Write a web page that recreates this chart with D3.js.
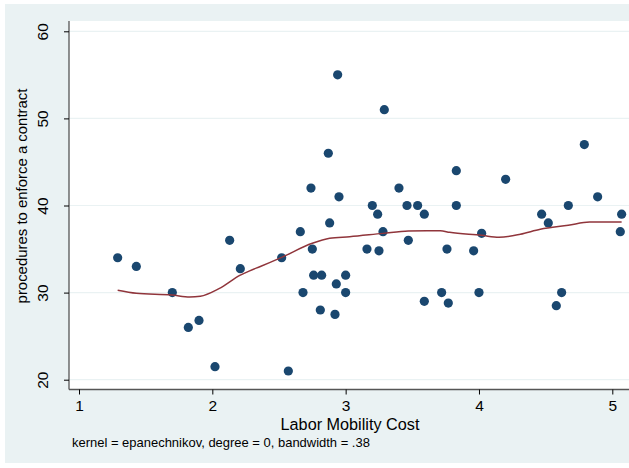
<!DOCTYPE html>
<html>
<head>
<meta charset="utf-8">
<script src="https://cdn.jsdelivr.net/npm/d3@7"></script>
<style>
  html, body { margin: 0; padding: 0; background: #ffffff; }
  svg { display: block; }
  text { font-family: "Liberation Sans", Arial, sans-serif; fill: #000; }
</style>
</head>
<body>
<svg id="chart" width="629" height="468"></svg>
<script>
// Scatter data: Labor Mobility Cost (x) vs procedures to enforce a contract (y)
const pointX = [1.29, 1.43, 1.70, 1.82, 1.90, 2.02, 2.13, 2.21, 2.52, 2.57,
                2.66, 2.68, 2.74, 2.75, 2.76, 2.81, 2.82, 2.87, 2.88, 2.92,
                2.93, 2.94, 2.95, 3.00, 3.00, 3.16, 3.20, 3.24, 3.25, 3.28,
                3.29, 3.40, 3.46, 3.47, 3.54, 3.59, 3.59, 3.72, 3.76, 3.77,
                3.83, 3.83, 3.96, 4.00, 4.02, 4.20, 4.47, 4.52, 4.58, 4.62,
                4.67, 4.79, 4.89, 5.07, 5.06];
const pointY = [34, 33, 30, 26, 26.8, 21.5, 36, 32.75, 34, 21,
                37, 30, 42, 35, 32, 28, 32, 46, 38, 27.5,
                31, 55, 41, 32, 30, 35, 40, 39, 34.8, 37,
                51, 42, 40, 36, 40, 39, 29, 30, 35, 28.8,
                44, 40, 34.8, 30, 36.8, 43, 39, 38, 28.5, 30,
                40, 47, 41, 39, 37];

// Smoothed curve (local polynomial)
const smoothX = [1.29, 1.43, 1.70, 1.83, 1.91, 2.05, 2.21, 2.28, 2.36, 2.52,
                 2.75, 2.88, 3.03, 3.28, 3.47, 3.61, 3.71, 3.78, 4.02, 4.15,
                 4.31, 4.46, 4.67, 4.83, 5.07];
const smoothY = [30.27, 29.92, 29.72, 29.5, 29.58, 30.45, 32.0, 32.5, 33.0, 34.05,
                 35.66, 36.23, 36.42, 36.8, 37.07, 37.1, 37.1, 36.92, 36.58, 36.35,
                 36.7, 37.27, 37.73, 38.1, 38.1];

const xTicks = [1, 2, 3, 4, 5];
const yTicks = [20, 30, 40, 50, 60];

const xTitle = "Labor Mobility Cost";
const yTitle = "procedures to enforce a contract";
const note = "kernel = epanechnikov, degree = 0, bandwidth = .38";

const svg = d3.select("#chart");
const W = 629, H = 468;
const FONT = "'Liberation Sans', Arial, sans-serif";

// outer background
svg.append("rect").attr("x", 5).attr("y", 4).attr("width", W - 5).attr("height", 459)
  .attr("fill", "#eaf2f3");

const plot = { left: 69, top: 21, right: 629, bottom: 389.5 };

svg.append("rect").attr("x", plot.left).attr("y", plot.top)
  .attr("width", plot.right - plot.left).attr("height", plot.bottom - plot.top)
  .attr("fill", "#ffffff");

const x = d3.scaleLinear().domain([1, 5]).range([79, 612.3]);
const y = d3.scaleLinear().domain([20, 60]).range([379.7, 31.3]);

// gridlines
svg.append("g").selectAll("line").data(yTicks).join("line")
  .attr("x1", plot.left).attr("x2", plot.right)
  .attr("y1", d => y(d)).attr("y2", d => y(d))
  .attr("stroke", "#eaf2f3").attr("stroke-width", 1.2);

// y axis
const yAxis = d3.axisLeft(y).tickValues(yTicks).tickSize(5).tickPadding(4).tickFormat(d3.format("d"));
const gy = svg.append("g").attr("transform", `translate(${plot.left},0)`).call(yAxis);
gy.select(".domain").attr("d", `M0,${plot.top}V${plot.bottom}`).attr("stroke", "#555").attr("stroke-width", 1.3);
gy.selectAll(".tick line").attr("stroke", "#000");
gy.selectAll(".tick text")
  .attr("font-size", 15.5)
  .attr("text-anchor", "middle")
  .attr("x", 0).attr("y", 0).attr("dy", 0)
  .attr("transform", "translate(-21,0) rotate(-90)")
  .style("font-family", FONT);

// x axis
const xAxis = d3.axisBottom(x).tickValues(xTicks).tickSize(5).tickPadding(5).tickFormat(d3.format("d"));
const gx = svg.append("g").attr("transform", `translate(0,${plot.bottom})`).call(xAxis);
gx.select(".domain").attr("d", `M${plot.left},0H${plot.right}`).attr("stroke", "#555").attr("stroke-width", 1.3);
gx.selectAll(".tick line").attr("stroke", "#000");
gx.selectAll(".tick text").attr("font-size", 15.5)
  .style("font-family", FONT);

// fit a text element to a target width by adjusting its font size
function fit(sel, target) {
  const w = sel.node().getComputedTextLength();
  const fs = parseFloat(sel.attr("font-size"));
  if (w > 0) sel.attr("font-size", fs * target / w);
}

// titles
const xt = svg.append("text").attr("x", 350).attr("y", 430).attr("text-anchor", "middle")
  .attr("font-size", 16).text(xTitle);
fit(xt, 139);
const yt = svg.append("text").attr("transform", `translate(27,196) rotate(-90)`)
  .attr("text-anchor", "middle").attr("font-size", 15).text(yTitle);
fit(yt, 215);
const nt = svg.append("text").attr("x", 72).attr("y", 447).attr("font-size", 13).text(note);
fit(nt, 298);

// points
const pts = pointX.map((v, i) => ({ x: v, y: pointY[i] }));
svg.append("g").selectAll("circle").data(pts).join("circle")
  .attr("cx", d => x(d.x)).attr("cy", d => y(d.y)).attr("r", 4.6)
  .attr("fill", "#1a476f");

// smooth line
const sm = smoothX.map((v, i) => ({ x: v, y: smoothY[i] }));
svg.append("path").datum(sm)
  .attr("d", d3.line().x(d => x(d.x)).y(d => y(d.y)).curve(d3.curveMonotoneX))
  .attr("fill", "none").attr("stroke", "#90353b").attr("stroke-width", 1.5);
</script>
</body>
</html>
